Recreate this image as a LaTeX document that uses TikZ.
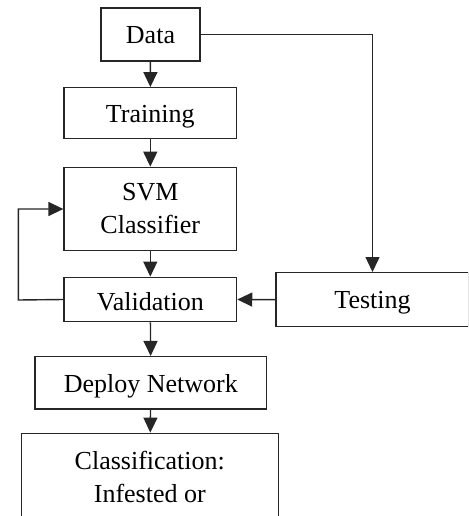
\documentclass[tikz,border=0pt]{standalone}
\usepackage{fontspec}
\setmainfont{Liberation Serif}
\newfontfamily\tnrfont{Liberation Serif}
\usetikzlibrary{arrows.meta}
\begin{document}
\begin{tikzpicture}[x=1pt,y=-1pt,
  box/.style={draw=black!85, line width=1.4pt, inner sep=0pt, align=center,
    font=\tnrfont\fontsize{26}{33}\selectfont},
  one/.style={text height=19pt, text depth=0pt},
  conn/.style={draw=black!85, line width=1.4pt},
  arr/.style={conn, -{Triangle[length=15pt,width=14pt]}}]
\useasboundingbox (0,0) rectangle (468,516);
\clip (0,0) rectangle (468,516);
\node[box, one, minimum width=99pt, minimum height=53pt] (data) at (150.5,34.5) {Data};
\node[box, one, minimum width=172.5pt, minimum height=50.5pt] (train) at (150.3,113) {Training};
\node[box, minimum width=172.5pt, minimum height=83.3pt] (svm) at (150.3,209) {SVM\\Classifier};
\node[box, text height=22pt, text depth=0pt, minimum width=172.5pt, minimum height=44.4pt] (val) at (150.3,299.5) {Validation};
\node[box, text height=17pt, text depth=0pt, minimum width=193pt, minimum height=54pt] (test) at (372.5,299.7) {Testing};
\node[box, one, minimum width=231.7pt, minimum height=52.3pt] (deploy) at (150.8,382.8) {Deploy Network};
\node[box, minimum width=257pt, minimum height=88pt] (cls) at (149.8,477.3) {Classification:\\Infested or};
\coordinate (fb) at (18.3,300);
\draw[arr] (data) -- (train);
\draw[arr] (train) -- (svm);
\draw[arr] (svm) -- (val);
\draw[arr] (val) -- (deploy);
\draw[arr] (deploy) -- (cls);
\draw[arr] (data.east) -| (test.north);
\draw[arr] (test.west) -- (val.east);
\draw[arr] (val.west) -- (fb) |- (svm.west);
\end{tikzpicture}
\end{document}
